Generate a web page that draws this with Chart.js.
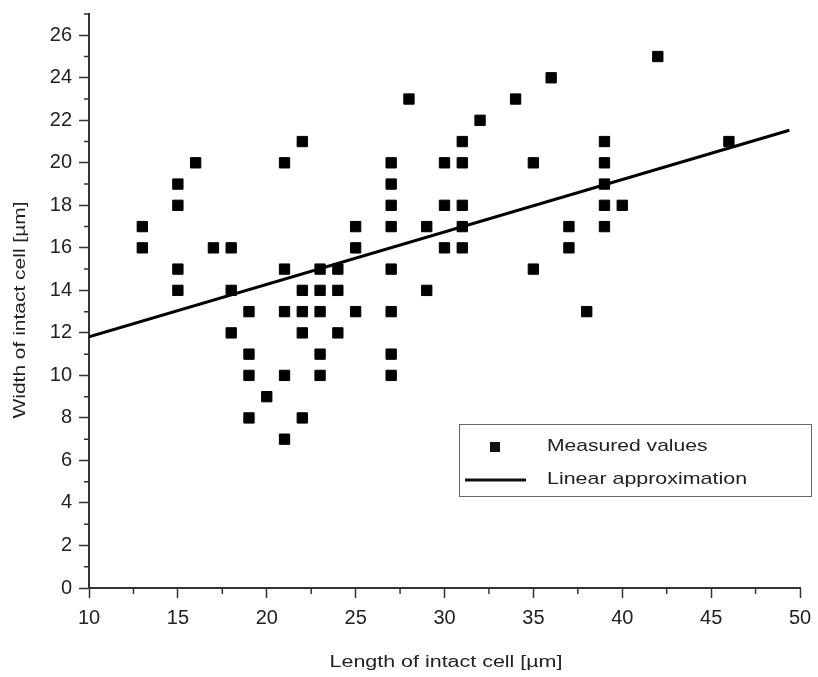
<!DOCTYPE html>
<html>
<head>
<meta charset="utf-8">
<script src="https://cdn.jsdelivr.net/npm/chart.js@4/dist/chart.umd.min.js"></script>
<style>
  html, body { margin: 0; padding: 0; background: #fff; }
  #wrap { position: relative; width: 818px; height: 677px; }
</style>
</head>
<body>
<div id="wrap"><canvas id="cellChart" width="818" height="677"></canvas></div>
<script>
// measured cell sizes (length, width) in µm
const lengthVals = [
  13, 13,
  15, 15, 15, 15,
  16, 17,
  18, 18, 18,
  19, 19, 19, 19,
  20,
  21, 21, 21, 21, 21,
  22, 22, 22, 22, 22,
  23, 23, 23, 23, 23,
  24, 24, 24,
  25, 25, 25,
  27, 27, 27, 27, 27, 27, 27, 27,
  28, 29, 29,
  30, 30, 30,
  31, 31, 31, 31, 31,
  32, 34, 35, 35, 36, 37, 37, 38,
  39, 39, 39, 39, 39,
  40, 42, 46
];
const widthVals = [
  17, 16,
  19, 18, 15, 14,
  20, 16,
  16, 14, 12,
  13, 11, 10, 8,
  9,
  20, 15, 13, 10, 7,
  21, 14, 13, 12, 8,
  15, 14, 13, 11, 10,
  15, 14, 12,
  17, 16, 13,
  20, 19, 18, 17, 15, 13, 11, 10,
  23, 17, 14,
  20, 18, 16,
  21, 20, 18, 17, 16,
  22, 23, 20, 15, 24, 17, 16, 13,
  21, 20, 19, 18, 17,
  18, 25, 21
];
// linear fit end points
const fitX = [10, 49.4];
const fitY = [11.82, 21.53];

const xTicks = [10, 15, 20, 25, 30, 35, 40, 45, 50];
const xMinor = [12.5, 17.5, 22.5, 27.5, 32.5, 37.5, 42.5, 47.5];
const yTicks = [0, 2, 4, 6, 8, 10, 12, 14, 16, 18, 20, 22, 24, 26];
const yMinor = [1, 3, 5, 7, 9, 11, 13, 15, 17, 19, 21, 23, 25, 27];

const legendLabels = ['Measured values', 'Linear approximation'];
const xTitle = 'Length of intact cell [µm]';
const yTitle = 'Width of intact cell [µm]';

const FONT = 'Liberation Sans, Arial, sans-serif';
const INK = '#222';

// the original text is set a bit wide, so stretch it sideways
function wideText(ctx, text, x, y, sx, align) {
  ctx.save();
  ctx.translate(x, y);
  ctx.scale(sx, 1);
  ctx.textAlign = align;
  ctx.fillText(text, 0, 0);
  ctx.restore();
}

// minor ticks, axis titles and the legend box
const extrasPlugin = {
  id: 'extras',
  afterDraw(chart) {
    const ctx = chart.ctx;
    const xs = chart.scales.x, ys = chart.scales.y;
    ctx.save();
    ctx.strokeStyle = '#333';
    ctx.lineWidth = 1.5;
    ctx.beginPath();
    xMinor.forEach(v => {
      const px = xs.getPixelForValue(v);
      ctx.moveTo(px, ys.bottom);
      ctx.lineTo(px, ys.bottom + 6);
    });
    yMinor.forEach(v => {
      const py = ys.getPixelForValue(v);
      ctx.moveTo(xs.left, py);
      ctx.lineTo(xs.left - 5, py);
    });
    ctx.stroke();

    // axis titles
    ctx.fillStyle = INK;
    ctx.font = '16px ' + FONT;
    ctx.textBaseline = 'middle';
    wideText(ctx, xTitle, 446, 663, 1.34, 'center');
    ctx.save();
    ctx.translate(21, 310);
    ctx.rotate(-Math.PI / 2);
    wideText(ctx, yTitle, 0, 0, 1.31, 'center');
    ctx.restore();

    // legend
    const bx = 459.5, by = 424.5, bw = 352, bh = 72;
    ctx.fillStyle = '#fff';
    ctx.fillRect(bx, by, bw, bh);
    ctx.strokeStyle = '#666';
    ctx.lineWidth = 1;
    ctx.strokeRect(bx, by, bw, bh);

    ctx.fillStyle = '#111';
    ctx.fillRect(490, 442, 10, 10);
    ctx.strokeStyle = '#111';
    ctx.lineWidth = 3;
    ctx.beginPath();
    ctx.moveTo(465, 480);
    ctx.lineTo(526, 480);
    ctx.stroke();

    ctx.fillStyle = INK;
    ctx.font = '17px ' + FONT;
    ctx.textBaseline = 'middle';
    wideText(ctx, legendLabels[0], 547, 446, 1.24, 'left');
    wideText(ctx, legendLabels[1], 547, 479, 1.26, 'left');
    ctx.restore();
  }
};

const points = lengthVals.map((x, i) => ({ x, y: widthVals[i] }));
const fitLine = fitX.map((x, i) => ({ x, y: fitY[i] }));

new Chart(document.getElementById('cellChart'), {
  type: 'scatter',
  data: {
    datasets: [
      {
        label: legendLabels[0],
        data: points,
        pointStyle: 'rect',
        pointRadius: 7.3,
        pointBorderWidth: 1,
        backgroundColor: '#000',
        borderColor: '#000',
        order: 2
      },
      {
        label: legendLabels[1],
        type: 'line',
        data: fitLine,
        borderColor: '#000',
        borderWidth: 3,
        pointRadius: 0,
        fill: false,
        order: 1
      }
    ]
  },
  options: {
    responsive: false,
    animation: false,
    layout: { padding: { top: 14, right: 18, left: 0, bottom: 0 } },
    plugins: { legend: { display: false }, tooltip: { enabled: false } },
    scales: {
      x: {
        type: 'linear',
        min: 10,
        max: 50,
        afterFit: s => { s.height = 89; s.paddingLeft = 0; s.paddingRight = 0; },
        afterBuildTicks: s => { s.ticks = xTicks.map(v => ({ value: v })); },
        grid: { drawOnChartArea: false, tickLength: 10, tickColor: '#333', tickWidth: 1.5 },
        border: { color: '#333', width: 2 },
        ticks: { color: INK, font: { family: FONT, size: 20 }, padding: 8, autoSkip: false }
      },
      y: {
        type: 'linear',
        min: 0,
        max: 27,
        afterFit: s => { s.width = 89; s.paddingTop = 0; s.paddingBottom = 0; },
        afterBuildTicks: s => { s.ticks = yTicks.map(v => ({ value: v })); },
        grid: { drawOnChartArea: false, tickLength: 10, tickColor: '#333', tickWidth: 1.5 },
        border: { color: '#333', width: 2 },
        ticks: { color: INK, font: { family: FONT, size: 20 }, padding: 7, autoSkip: false }
      }
    }
  },
  plugins: [extrasPlugin]
});
</script>
</body>
</html>
